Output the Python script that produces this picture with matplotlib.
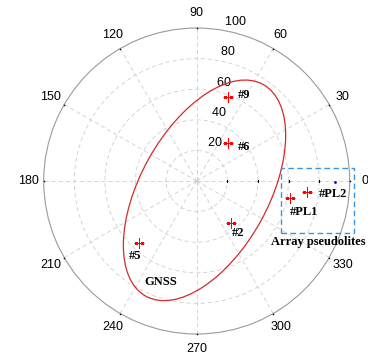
import numpy as np
import matplotlib
matplotlib.use("Agg")
import matplotlib.pyplot as plt
from matplotlib.patches import Ellipse, Rectangle

# Sky-plot grid
theta_ticks = np.arange(0, 360, 30)
r_ticks = [20, 40, 60, 80, 100]
r_max = 100

# GNSS satellites (azimuth in degrees, radial value)
gnss_ids = ["#9", "#6", "#2", "#5"]
gnss_az = [69.7, 51.0, 309.4, 227.3]
gnss_r = [58.4, 32.2, 35.3, 55.4]

# Array pseudolites
pl_ids = ["#PL1", "#PL2"]
pl_az = [349.5, 354.1]
pl_r = [62.0, 72.3]

# Array reference point
ref_az = [359.5]
ref_r = [90.6]

# Label positions (cartesian units of the plot)
gnss_label_xy = [(31.2, 56.0), (31.2, 22.4), (27.2, -34.1), (-40.3, -48.9)]
pl_label_xy = [(70.1, -20.4), (88.9, -8.5)]
gnss_group_xy = (-23.3, -65.8)
array_group_xy = (79.4, -39.6)

# GNSS coverage ellipse: centre, full axes, rotation
ell_center = (5.1, -6.1)
ell_axes = (158.2, 83.8)
ell_angle = 61.0

# Pseudolite array frame: x0, y0, width, height
box = (55.1, -33.7, 48.0, 42.0)

plt.rcParams["font.family"] = ["Liberation Sans", "DejaVu Sans"]
fig = plt.figure(figsize=(3.68, 3.58), dpi=100)
rect = [0.1188, 0.067, 0.8315, 0.8547]

ax = fig.add_axes(rect, projection="polar")
ax.set_ylim(0, r_max)
ax.set_thetagrids(theta_ticks, labels=[""] * len(theta_ticks))
ax.set_rgrids(r_ticks[:-1], labels=[""] * (len(r_ticks) - 1))
ax.grid(True, color="#cfcfcf", linestyle=(0, (5, 3.5)), linewidth=0.6)
ax.spines["polar"].set_color("#9a9a9a")
ax.spines["polar"].set_linewidth(0.8)
ax.tick_params(length=0, pad=0)

# small tick dots on the outer ring and on the 0-degree spoke
ax.plot(np.deg2rad(theta_ticks), [r_max] * len(theta_ticks), ls="none",
        marker="s", ms=1.0, mew=0, color="black", clip_on=False, zorder=3)
ax.plot([0] * (len(r_ticks) - 1), r_ticks[:-1], ls="none",
        marker="s", ms=1.0, mew=0, color="black", zorder=3)

# angle labels
for t in theta_ticks:
    ax.text(np.deg2rad(t), 1.1 * r_max, str(t), ha="center", va="center",
            fontsize=9, color="black")
# radius labels along 82 degrees
for r in r_ticks:
    ax.text(np.deg2rad(82), r + 1, "  " + str(r), ha="left", va="bottom",
            fontsize=9, color="black")

# satellites
ax.plot(np.deg2rad(gnss_az), gnss_r, ls="none", marker="+", ms=6.5,
        mew=0.75, color="red", zorder=4)
ax.plot(np.deg2rad(pl_az), pl_r, ls="none", marker="+", ms=6.5,
        mew=0.75, color="red", zorder=4)
ax.plot(np.deg2rad(ref_az), ref_r, ls="none", marker="o", ms=2.0, mew=0,
        color="blue", zorder=4)

# overlay for ellipse, frame and annotations
ov = fig.add_axes(rect)
ov.set_xlim(-r_max, r_max)
ov.set_ylim(-r_max, r_max)
ov.axis("off")
ov.patch.set_alpha(0)

ov.add_patch(Ellipse(ell_center, ell_axes[0], ell_axes[1], angle=ell_angle,
                     fill=False, edgecolor="#d42a2a", linewidth=0.9))
ov.add_patch(Rectangle(box[:2], box[2], box[3], fill=False,
                       edgecolor="#3c93d8", linewidth=1.0,
                       linestyle=(0, (4, 2.5)), clip_on=False))

serif_bold = dict(family=["Liberation Serif", "DejaVu Serif"],
                  fontweight="bold", fontsize=9, ha="center", va="center")
for name, (x, y) in zip(gnss_ids, gnss_label_xy):
    ov.text(x, y, name, **serif_bold)
for name, (x, y) in zip(pl_ids, pl_label_xy):
    ov.text(x, y, name, **serif_bold)
ov.text(*gnss_group_xy, "GNSS", **serif_bold)
ov.text(*array_group_xy, "Array pseudolites", clip_on=False, **serif_bold)

fig.savefig("out.png", dpi=100)
